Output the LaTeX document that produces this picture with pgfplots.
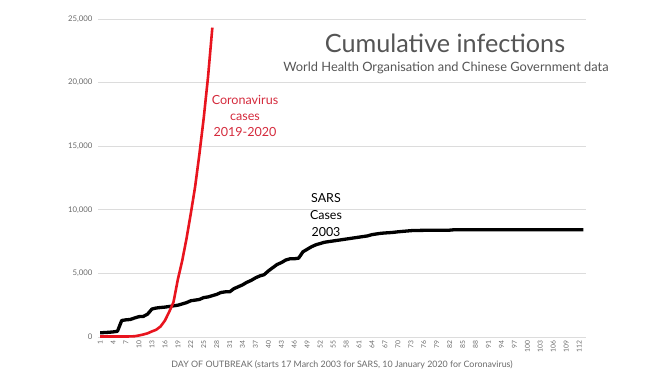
\documentclass[border=0pt]{standalone}
\usepackage{pgfplots}
\pgfplotsset{compat=1.18}
\usepackage{fontspec}
\setmainfont{Lato}
\definecolor{gridgray}{HTML}{DCDCDC}
\definecolor{tickgray}{HTML}{6A6A6A}
\definecolor{titlegray}{HTML}{555555}
\definecolor{covred}{HTML}{E8141E}
\definecolor{labred}{HTML}{D42A3C}
\begin{document}
\begin{tikzpicture}[x=1bp,y=1bp]
\useasboundingbox (0,0) rectangle (664,378);
\begin{axis}[
  at={(98bp,41bp)}, anchor=south west,
  scale only axis, width=488bp, height=318bp,
  xmin=0.5, xmax=113.6, ymin=0, ymax=25000,
  axis line style={draw=none},
  xtick={1,4,...,112}, ytick={0,5000,...,25000},
  major tick length=0pt,
  ymajorgrids, grid style={gridgray, line width=0.8bp},
  scaled y ticks=false,
  /pgf/number format/1000 sep={,},
  /pgf/number format/assume math mode=true,
  yticklabel style={font=\fontsize{7.8}{9}\selectfont, text=tickgray, xshift=-2bp},
  xticklabel style={rotate=90, anchor=east, font=\fontsize{6.8}{7}\selectfont, text=tickgray},
  xlabel={DAY OF OUTBREAK (starts 17 March 2003 for SARS, 10 January 2020 for Coronavirus)},
  xlabel style={at={(rel axis cs:0.5,0)}, anchor=center, yshift=-28bp,
     font=\fontsize{8.9}{10}\selectfont, text=tickgray},
  clip=false,
]
\addplot[black, line width=3.3bp, line join=round] coordinates {
(1,330) (2,350) (3,370) (4,400) (5,450) (6,1300) (7,1350) (8,1380) (9,1500) (10,1600)
(11,1620) (12,1800) (13,2200) (14,2280) (15,2320) (16,2350) (17,2400) (18,2450) (19,2500) (20,2600)
(21,2700) (22,2850) (23,2900) (24,2950) (25,3100) (26,3150) (27,3250) (28,3350) (29,3500) (30,3550)
(31,3550) (32,3800) (33,3950) (34,4100) (35,4300) (36,4450) (37,4650) (38,4800) (39,4900) (40,5200)
(41,5450) (42,5700) (43,5850) (44,6050) (45,6150) (46,6150) (47,6200) (48,6700) (49,6900) (50,7100)
(51,7250) (52,7350) (53,7450) (54,7500) (55,7550) (56,7600) (57,7650) (58,7700) (59,7750) (60,7800)
(61,7850) (62,7900) (63,7950) (64,8050) (65,8100) (66,8150) (67,8180) (68,8200) (69,8230) (70,8270)
(71,8300) (72,8330) (73,8360) (74,8380) (75,8380) (76,8385) (77,8385) (78,8385) (79,8390) (80,8390)
(81,8390) (82,8400) (83,8430) (84,8430) (85,8430) (86,8430) (87,8430) (88,8430) (89,8430) (90,8430)
(91,8430) (92,8430) (93,8430) (94,8430) (95,8430) (96,8430) (97,8430) (98,8430) (99,8430) (100,8430)
(101,8430) (102,8430) (103,8430) (104,8430) (105,8430) (106,8430) (107,8430) (108,8430) (109,8430) (110,8430)
(111,8430) (112,8430) (113,8430)
};
\addplot[covred, line width=2.6bp, line join=round] coordinates {
(1,41) (2,41) (3,41) (4,41) (5,41) (6,41) (7,41) (8,45) (9,62) (10,121)
(11,198) (12,291) (13,440) (14,571) (15,830) (16,1287) (17,1975) (18,2744) (19,4515) (20,5974)
(21,7711) (22,9692) (23,11791) (24,14380) (25,17205) (26,20438) (27,24324)
};
\end{axis}
\node[text=titlegray, font=\fontsize{25.3}{28}\selectfont] at (445,335) {Cumulative infections};
\node[text=titlegray, font=\fontsize{12.9}{14}\selectfont] at (446,310) {World Health Organisation and Chinese Government data};
\node[text=labred, align=center, font=\fontsize{12.6}{16.5}\selectfont] at (245,262) {Coronavirus\\cases\\2019-2020};
\node[text=black, align=center, font=\fontsize{12.5}{17}\selectfont] at (326,163) {SARS\\Cases\\2003};
\end{tikzpicture}
\end{document}
